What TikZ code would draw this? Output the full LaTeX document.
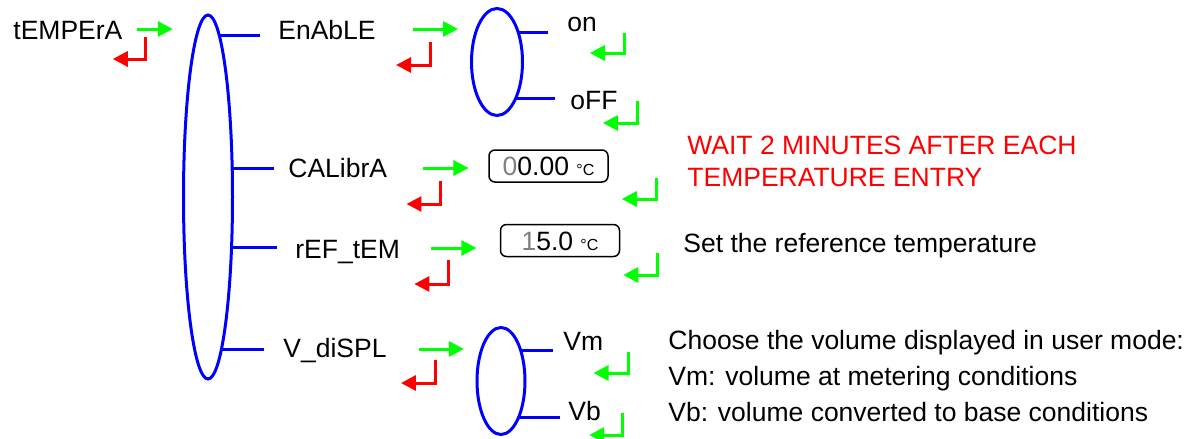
\documentclass[tikz,border=0pt]{standalone}
\usepackage{fontspec}
\setmainfont{Liberation Sans}
\usetikzlibrary{arrows.meta,shapes.geometric}
\newcommand\labfont{\fontsize{13.25}{16}\selectfont}
\newcommand\unitfont{\fontsize{8}{8}\selectfont}

\begin{document}
\begin{tikzpicture}[
    x=0.5pt, y=-0.5pt,
    lbl/.style={font=\labfont, inner sep=0pt, text height=9.5pt, text depth=0pt, anchor=west},
    note/.style={font=\labfont, inner sep=0pt, align=left, anchor=north west},
    sel/.style={draw=blue, line width=1.5pt, ellipse, inner sep=0pt, outer sep=0pt},
    br/.style={draw=blue, line width=1.5pt},
    valbox/.style={draw, rounded corners=3pt, line width=0.75pt, font=\labfont,
                   minimum width=59.5pt, minimum height=16pt, inner sep=0pt,
                   text height=9.5pt, text depth=0pt},
    fwd/.style={draw=green, line width=1.5pt, -{Triangle[length=7.5pt,width=7.5pt]}},
    esc/.style={fwd, draw=red}
]
\useasboundingbox (0,0) rectangle (1196,439);

% main menu
\node[lbl] (temp) at (13,30) {tEMPErA};
\node[sel, minimum width=24.5pt, minimum height=182pt] (selmain) at (208,197) {};
\node[lbl] (enable) at (278,30) {EnAbLE};
\node[lbl] (calib) at (288,167.5) {CALibrA};
\node[lbl] (reftem) at (295,249) {rEF\_tEM};
\node[lbl] (vdisp) at (283,348) {V\_diSPL};

\draw[fwd] (temp.east) ++(14,-1) -- ++(36,0);
\draw[esc] (temp.east) ++(23,7) -- ++(0,22) -- ++(-33,0);

\draw[br, shorten >=9pt] (selmain.86.5) -- (selmain.86.5 -| enable.west);
\draw[br, shorten >=7pt] (selmain.50.2) -- (selmain.50.2 -| calib.west);
\draw[br, shorten >=9pt] (selmain.-65.7) -- (selmain.-65.7 -| reftem.west);
\draw[br, shorten >=9.5pt] (selmain.-85) -- (selmain.-85 -| vdisp.west);

% EnAbLE
\draw[fwd] (enable.east) ++(37,-1) -- ++(45,0);
\draw[esc] (enable.east) ++(54,12) -- ++(0,23) -- ++(-34,0);
\node[sel, minimum width=25.5pt, minimum height=53.5pt] (selen) at (497,62) {};
\node[lbl] (on) at (567,22.5) {on};
\node[lbl] (off) at (570,100) {oFF};
\draw[br, shorten >=9.5pt] (selen.54.9) -- (selen.54.9 -| on.west);
\draw[br, shorten >=7.5pt] (selen.-63.6) -- (selen.-63.6 -| off.west);
\draw[fwd] (on.east) ++(27.5,10.5) -- ++(0,20) -- ++(-35,0);
\draw[fwd] (off.east) ++(20,1) -- ++(0,22) -- ++(-35,0);

% CALibrA
\draw[fwd] (calib.east) ++(36,0.5) -- ++(45,0);
\draw[esc] (calib.east) ++(53,13.5) -- ++(0,23) -- ++(-34,0);
\node[valbox] (calval) at (548.5,166) {\textcolor{gray}{0}0.00 {\unitfont °C}};
\draw[fwd] (calval.east) ++(48,12) -- ++(0,21) -- ++(-35,0);
\node[note, text=red] (waitnote) at (687,136) {WAIT 2 MINUTES AFTER EACH\\TEMPERATURE ENTRY};

% rEF_tEM
\draw[fwd] (reftem.east) ++(31,-1) -- ++(45,0);
\draw[esc] (reftem.east) ++(48,11) -- ++(0,24) -- ++(-34,0);
\node[valbox] (refval) at (560,240.5) {\textcolor{gray}{1}5.0 {\unitfont °C}};
\draw[fwd] (refval.east) ++(37,12.5) -- ++(0,22) -- ++(-34,0);
\node[lbl] (refnote) at (683,242.5) {Set the reference temperature};

% V_diSPL
\draw[fwd] (vdisp.east) ++(32,1) -- ++(45,0);
\draw[esc] (vdisp.east) ++(49,12) -- ++(0,23) -- ++(-35,0);
\node[sel, minimum width=24pt, minimum height=53.5pt] (selvol) at (501,381) {};
\node[lbl] (vm) at (563,341) {Vm};
\node[lbl] (vb) at (568,411) {Vb};
\draw[br, shorten >=5pt] (selvol.57.7) -- (selvol.57.7 -| vm.west);
\draw[br, shorten >=4pt] (selvol.-64.9) -- (selvol.-64.9 -| vb.west);
\draw[fwd] (vm.east) ++(25,11) -- ++(0,21) -- ++(-35,0);
\draw[fwd] (vb.east) ++(21,2) -- ++(0,22) -- ++(-33,0);
\node[note, font=\fontsize{13.25}{18}\selectfont] (volnote) at (668,329.5)
    {Choose the volume displayed in user mode:\\Vm: volume at metering conditions\\Vb: volume converted to base conditions};
\end{tikzpicture}
\end{document}
